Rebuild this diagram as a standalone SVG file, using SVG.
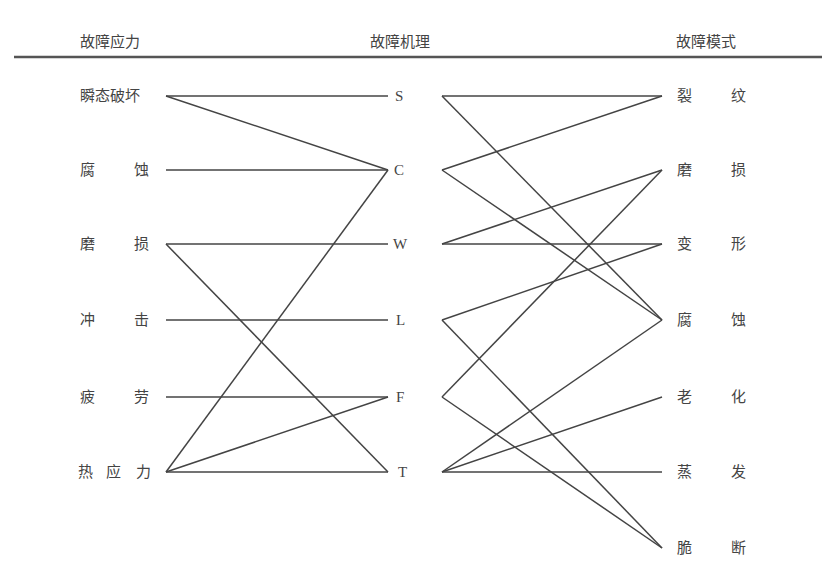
<svg xmlns="http://www.w3.org/2000/svg" width="832" height="573" viewBox="0 0 832 573">
<style>
text{font-family:"Noto Sans CJK SC","Liberation Serif",serif;font-size:15px;fill:#444}
.m{font-family:"Liberation Serif",serif;font-size:15px}
.c line{stroke:#444;stroke-width:1.5}
</style>
<rect width="832" height="573" fill="#fff"/>
<g id="header">
<text x="80" y="47">故障应力</text>
<text x="370" y="47">故障机理</text>
<text x="676" y="47">故障模式</text>
<line x1="14" y1="57" x2="822" y2="57" stroke="#555" stroke-width="2.5"/>
</g>
<g id="s1"><text x="80" y="101">瞬态破坏</text></g>
<g id="s2"><text x="80" y="175">腐</text><text x="134" y="175">蚀</text></g>
<g id="s3"><text x="80" y="249">磨</text><text x="134" y="249">损</text></g>
<g id="s4"><text x="80" y="325">冲</text><text x="134" y="325">击</text></g>
<g id="s5"><text x="80" y="402">疲</text><text x="134" y="402">劳</text></g>
<g id="s6"><text x="78" y="477">热</text><text x="106" y="477">应</text><text x="136" y="477">力</text></g>
<g id="mS"><text class="m" x="395" y="101">S</text></g>
<g id="mC"><text class="m" x="394" y="175">C</text></g>
<g id="mW"><text class="m" x="393" y="249">W</text></g>
<g id="mL"><text class="m" x="396" y="325">L</text></g>
<g id="mF"><text class="m" x="396" y="402">F</text></g>
<g id="mT"><text class="m" x="398" y="477">T</text></g>
<g id="r1"><text x="677" y="101">裂</text><text x="731" y="101">纹</text></g>
<g id="r2"><text x="677" y="175">磨</text><text x="731" y="175">损</text></g>
<g id="r3"><text x="677" y="249">变</text><text x="731" y="249">形</text></g>
<g id="r4"><text x="677" y="325">腐</text><text x="731" y="325">蚀</text></g>
<g id="r5"><text x="677" y="402">老</text><text x="731" y="402">化</text></g>
<g id="r6"><text x="677" y="477">蒸</text><text x="731" y="477">发</text></g>
<g id="r7"><text x="677" y="553">脆</text><text x="731" y="553">断</text></g>
<g class="c" id="connectors">
<line x1="166" y1="96" x2="388" y2="96"/>
<line x1="166" y1="96" x2="388" y2="170"/>
<line x1="166" y1="170" x2="388" y2="170"/>
<line x1="166" y1="244" x2="388" y2="244"/>
<line x1="166" y1="244" x2="388" y2="472"/>
<line x1="166" y1="320" x2="388" y2="320"/>
<line x1="166" y1="397" x2="388" y2="397"/>
<line x1="166" y1="472" x2="388" y2="170"/>
<line x1="166" y1="472" x2="388" y2="397"/>
<line x1="166" y1="472" x2="388" y2="472"/>
<line x1="442" y1="96" x2="662" y2="96"/>
<line x1="442" y1="96" x2="662" y2="320"/>
<line x1="442" y1="170" x2="662" y2="96"/>
<line x1="442" y1="170" x2="662" y2="320"/>
<line x1="442" y1="244" x2="662" y2="170"/>
<line x1="442" y1="244" x2="662" y2="244"/>
<line x1="442" y1="320" x2="662" y2="244"/>
<line x1="442" y1="320" x2="662" y2="548"/>
<line x1="442" y1="397" x2="662" y2="170"/>
<line x1="442" y1="397" x2="662" y2="548"/>
<line x1="442" y1="472" x2="662" y2="320"/>
<line x1="442" y1="472" x2="662" y2="397"/>
<line x1="442" y1="472" x2="662" y2="472"/>
</g>
</svg>
